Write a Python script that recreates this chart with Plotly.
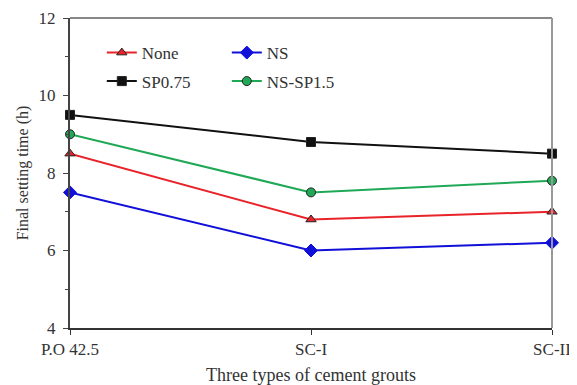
import plotly.graph_objects as go

categories = ["P.O 42.5", "SC-I", "SC-II"]
none_vals = [8.5, 6.8, 7.0]
ns_vals = [7.5, 6.0, 6.2]
sp075_vals = [9.5, 8.8, 8.5]
nssp15_vals = [9.0, 7.5, 7.8]

font = "Liberation Serif, Times New Roman, serif"
fig = go.Figure()

series = [
    ("None", none_vals, "#e8232a", "triangle-up", "legend"),
    ("NS", ns_vals, "#1010d8", "diamond", "legend"),
    ("SP0.75", sp075_vals, "#111111", "square", "legend2"),
    ("NS-SP1.5", nssp15_vals, "#1fa855", "circle", "legend2"),
]
for name, vals, col, sym, lg in series:
    fig.add_trace(go.Scatter(
        x=categories, y=vals, name=name, mode="lines+markers",
        line=dict(color=col, width=2),
        marker=dict(symbol=sym, size=9 if sym != "diamond" else 10, color=col,
                    line=dict(color="#222" if sym != "diamond" else col, width=1)),
        cliponaxis=False, legend=lg,
    ))

leg_common = dict(orientation="h", xanchor="left", yanchor="middle",
                  bgcolor="rgba(0,0,0,0)", font=dict(family=font, size=17, color="#333"),
                  entrywidth=80, entrywidthmode="pixels", tracegroupgap=0,
                  itemwidth=30)
fig.update_layout(
    width=569, height=377,
    margin=dict(l=62, r=25, t=10, b=57, autoexpand=False),
    paper_bgcolor="white", plot_bgcolor="white",
    font=dict(family=font, size=17, color="#333"),
    legend=dict(x=0.066, y=0.887, **leg_common),
    legend2=dict(x=0.066, y=0.795, **leg_common),
    xaxis=dict(
        type="category", range=[0, 2], showgrid=False, zeroline=False,
        automargin=False,
        showline=True, linecolor="#333", linewidth=2,
        ticks="outside", ticklen=5, tickcolor="#333", tickwidth=1,
        tickfont=dict(family=font, size=17, color="#333"),
        title=dict(text="Three types of cement grouts", font=dict(family=font, size=18, color="#333"), standoff=10),
    ),
    yaxis=dict(
        range=[4, 12], dtick=2, showgrid=False, zeroline=False,
        automargin=False,
        showline=True, linecolor="#444", linewidth=2,
        ticks="outside", ticklen=5, tickcolor="#444", tickwidth=1,
        ticklabelstandoff=4,
        minor=dict(dtick=1, ticks="outside", ticklen=3, tickcolor="#444", showgrid=False),
        tickfont=dict(family=font, size=17, color="#333"),
        title=dict(text="Final setting time (h)", font=dict(family=font, size=16, color="#333"), standoff=6),
    ),
    showlegend=True,
)
fig.add_shape(type="line", xref="paper", yref="paper", x0=0, x1=1, y0=1, y1=1,
              line=dict(color="#888", width=2))
fig.add_shape(type="line", xref="paper", yref="paper", x0=1, x1=1, y0=0, y1=1,
              line=dict(color="#999", width=2))
fig.write_html("out.html")
